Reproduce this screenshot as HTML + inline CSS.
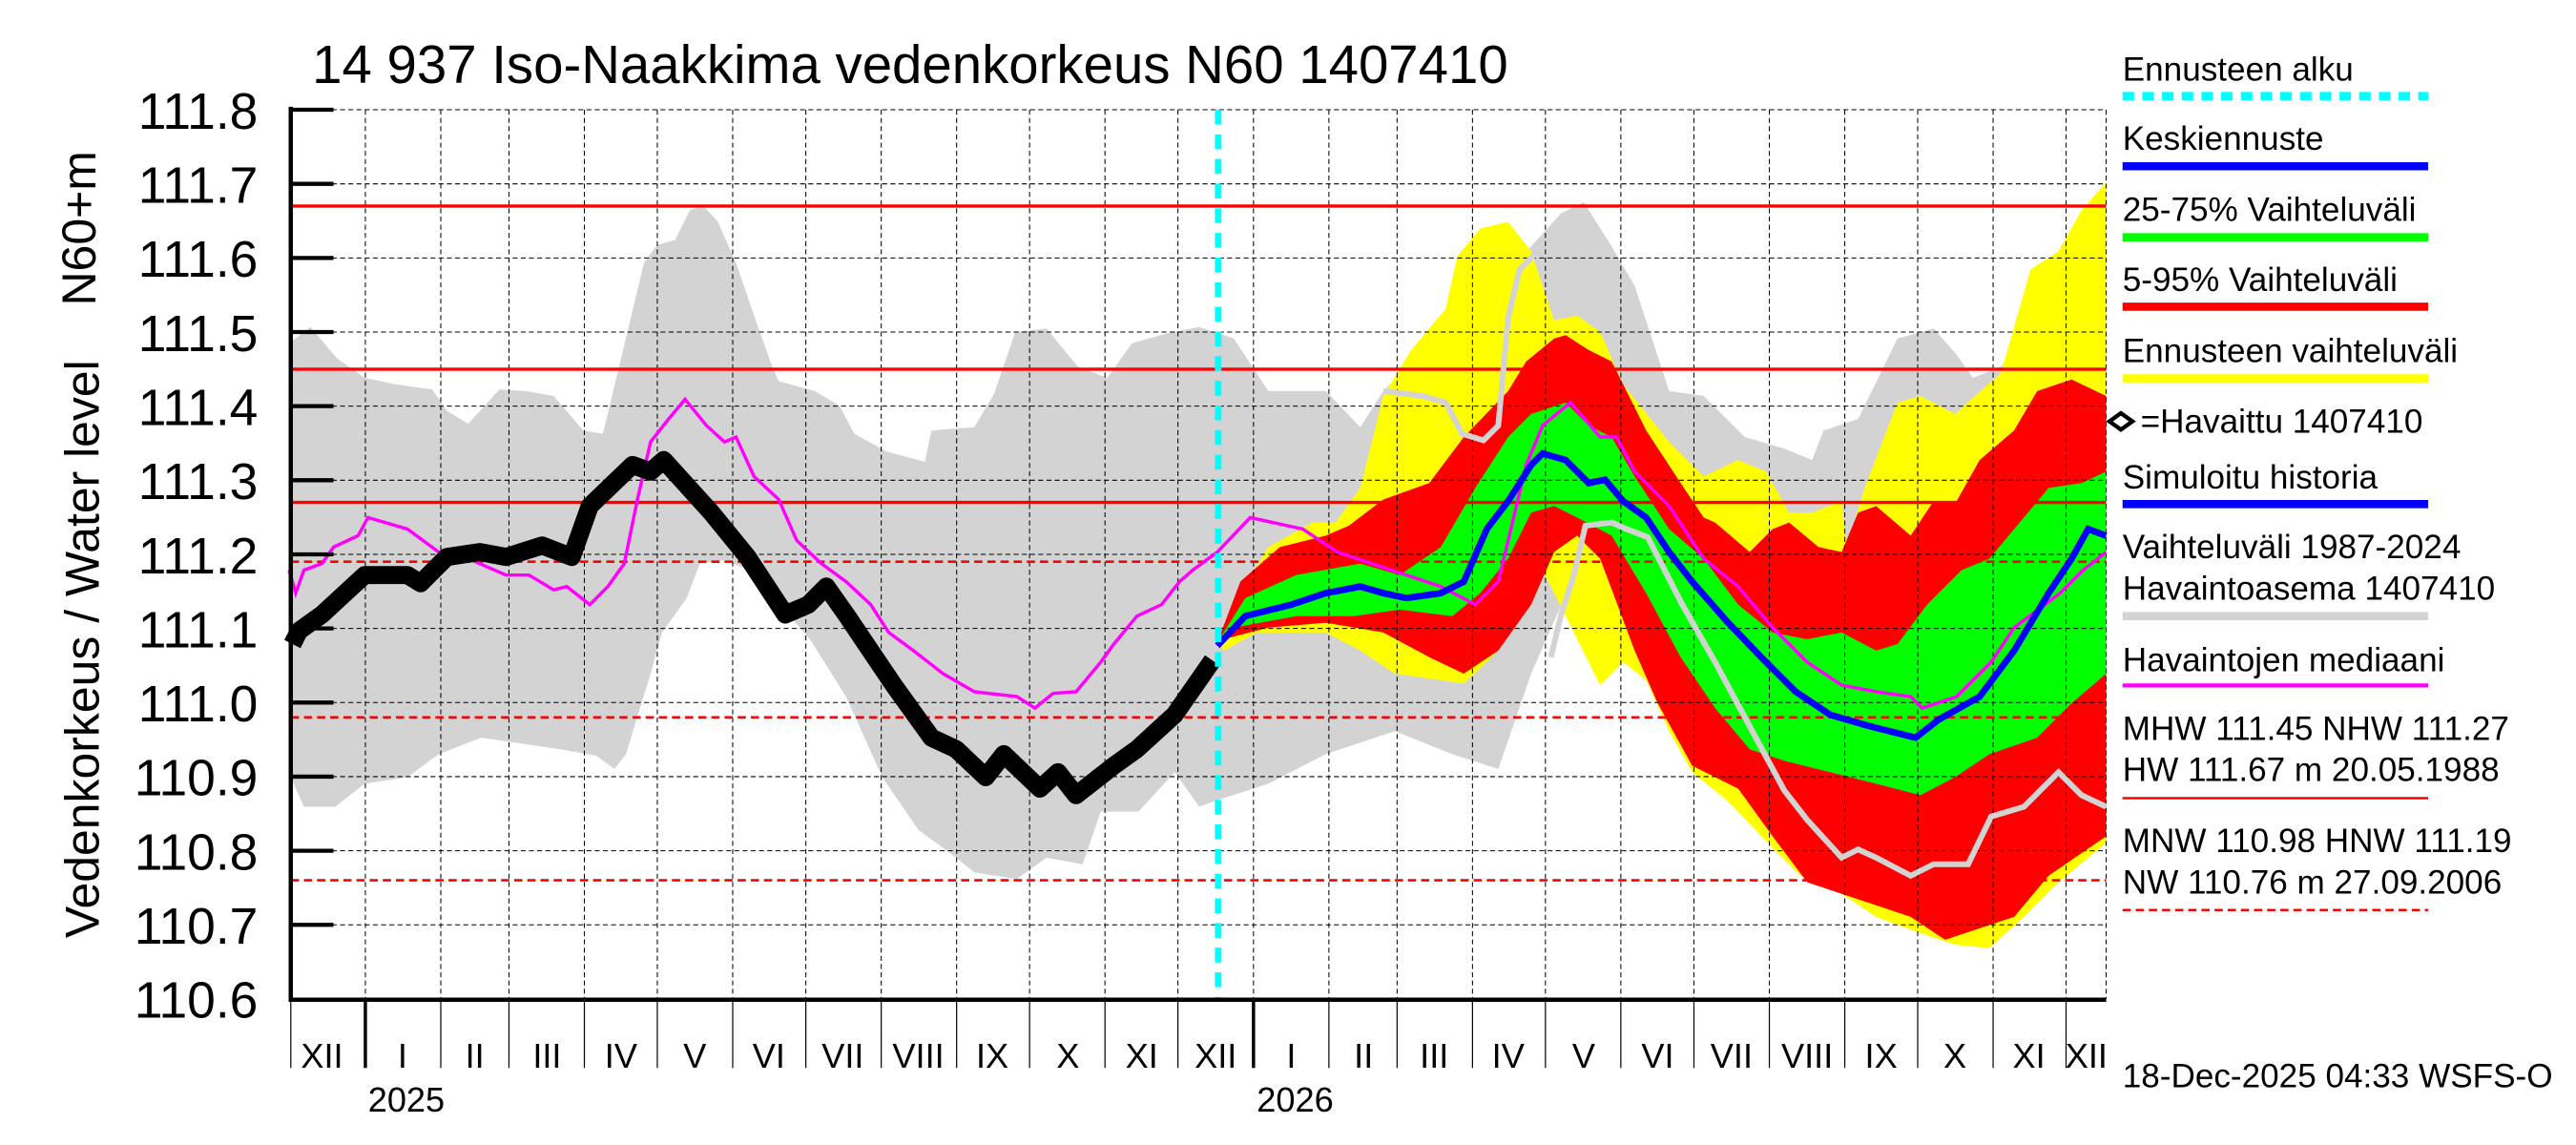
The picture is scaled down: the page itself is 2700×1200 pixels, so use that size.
<!DOCTYPE html>
<html><head><meta charset="utf-8"><style>html,body{margin:0;padding:0;background:#fff;}svg{display:block;}text{font-family:"Liberation Sans",sans-serif;}</style></head>
<body>
<svg width="2700" height="1200" viewBox="0 0 1568 696.9" preserveAspectRatio="none" xmlns="http://www.w3.org/2000/svg">
<rect width="1568" height="697" fill="#fff"/>
<polygon fill="#d3d3d3" points="176,209 189,199 205,218 222,230 241,234 263,237 272,250 285,258 304,237 320,238 337,241 355,262 367,264 380,210 392,160 400,149 411,146 420,128 428,125 437,135 448,160 460,195 470,223 474,232 496,238 511,247 520,264 540,275 563,281 567,262 593,260 605,240 618,202 637,200 656,223 674,230 689,209 710,203 730,199 751,206 772,238 807,238 828,260 842,238 880,200 910,170 932,150 950,130 964,123 981,150 995,174 1016,238 1037,241 1062,266 1086,273 1103,280 1110,262 1131,255 1155,206 1177,200 1191,216 1201,230 1218,223 1232,209 1260,204 1282,206 1282,470 1250,480 1200,510 1150,520 1100,500 1050,450 1000,380 977,315 960,347 946,378 932,410 912,468 884,459 849,445 807,459 772,477 741,487 730,491 715,470 693,494 670,494 659,526 637,522 619,535 593,531 582,522 559,505 537,473 515,424 493,389 456,347 441,341 426,343 418,364 403,385 396,410 381,459 374,468 363,460 341,456 293,449 267,459 248,473 222,477 204,491 185,491 177,473"/>
<polygon fill="#ffff00" points="741,391 751,368 772,333 799,318 813,318 828,297 842,241 859,213 880,188 887,156 901,139 918,135 932,153 946,195 960,192 974,202 988,234 1016,269 1037,290 1058,280 1075,287 1089,312 1103,312 1121,305 1124,333 1135,297 1155,245 1169,241 1190,252 1218,227 1236,164 1253,153 1267,128 1282,111 1282,513 1253,537 1232,558 1211,577 1190,575 1169,568 1142,558 1121,544 1096,533 1079,516 1051,487 1030,470 1016,445 1002,414 988,403 974,417 953,375 939,347 912,396 891,416 849,410 828,396 807,385 765,385 745,396"/>
<polygon fill="#ff0000" points="741,391 755,354 779,333 807,326 821,320 842,304 870,294 891,266 918,238 929,220 946,206 953,204 967,213 981,220 1002,262 1023,294 1037,315 1044,318 1065,336 1079,322 1089,318 1107,333 1121,336 1131,312 1142,308 1163,326 1177,305 1191,305 1205,280 1226,262 1240,238 1261,231 1282,241 1282,509 1247,533 1226,558 1205,565 1184,572 1163,558 1142,551 1121,544 1100,537 1079,509 1058,480 1030,466 1009,428 995,396 974,340 960,326 946,336 932,368 912,396 891,410 870,400 842,385 807,379 772,382 745,389"/>
<polygon fill="#00ff00" points="741,391 758,364 789,350 828,343 852,350 877,333 898,297 918,266 932,252 953,245 967,259 981,266 995,290 1016,322 1037,340 1058,368 1079,385 1100,389 1121,385 1142,396 1155,392 1173,368 1194,347 1211,340 1226,322 1247,297 1267,294 1282,287 1282,410 1261,428 1240,449 1211,459 1190,473 1169,484 1142,477 1114,470 1086,463 1065,456 1044,431 1023,400 1002,361 981,326 960,315 946,308 932,312 918,340 901,361 884,375 852,371 824,375 789,375 751,382"/>
<g stroke="#000" stroke-width="0.6" stroke-dasharray="3 2" fill="none">
<path d="M177 66.8H1282M177 111.9H1282M177 157H1282M177 202.1H1282M177 247.2H1282M177 292.3H1282M177 337.4H1282M177 382.5H1282M177 427.6H1282M177 472.7H1282M177 517.8H1282M177 562.9H1282"/>
<path d="M222.4 66.8V608M268.3 66.8V608M309.8 66.8V608M355.7 66.8V608M400.1 66.8V608M446 66.8V608M490.5 66.8V608M536.4 66.8V608M582.3 66.8V608M626.7 66.8V608M672.6 66.8V608M717 66.8V608M763 66.8V608M808.9 66.8V608M850.4 66.8V608M896.3 66.8V608M940.7 66.8V608M986.6 66.8V608M1031.1 66.8V608M1077 66.8V608M1122.9 66.8V608M1167.3 66.8V608M1213.2 66.8V608M1257.6 66.8V608M1282 66.8V608"/>
</g>
<g stroke="#ff0000" stroke-width="2" fill="none">
<path d="M177 125.4H1282M177 224.7H1282M177 305.8H1282"/>
<path stroke-dasharray="5 3" stroke-width="1.5" d="M177 341.9H1282M177 436.6H1282M177 535.8H1282"/>
</g>
<polyline fill="none" stroke="#d3d3d3" stroke-width="3.5" points="842,238 866,241 880,245 890,264 903,268 912,259 918,193 925,164 939,150"/>
<polyline fill="none" stroke="#d3d3d3" stroke-width="3.5" points="944,400 950,375 958,350 965,320 981,318 990,322 1003,327 1024,368 1044,403 1065,442 1086,481 1100,499 1121,522 1131,517 1142,522 1163,533 1177,526 1198,526 1212,497 1232,491 1253,470 1267,484 1282,491"/>
<polyline fill="none" stroke="#ff00ff" stroke-width="2" points="176,347 180,361 185,347 196,343 203,333 218,326 224,315 248,322 267,336 285,340 308,350 322,350 337,359 345,357 359,368 370,357 380,343 388,304 396,269 407,255 417,243 430,259 441,269 448,266 459,290 474,304 485,329 500,343 515,354 530,368 541,385 556,396 574,410 593,421 619,424 630,431 641,422 655,421 670,403 678,392 692,375 707,368 718,354 726,347 741,336 761,315 793,322 814,336 835,343 856,350 877,357 898,368 912,354 918,329 929,283 939,259 956,245 974,266 984,266 995,287 1016,308 1037,340 1058,357 1079,382 1100,403 1121,417 1142,421 1163,424 1170,431 1191,424 1212,403 1226,382 1254,361 1268,347 1282,336"/>
<polyline fill="none" stroke="#0000ff" stroke-width="4" points="741,393 758,375 786,368 807,361 828,357 842,361 856,364 877,361 891,354 905,322 918,305 932,283 939,276 953,280 967,294 977,292 988,305 1002,315 1016,336 1030,354 1051,378 1072,400 1093,421 1114,435 1138,442 1166,449 1180,438 1205,424 1226,396 1247,361 1261,340 1271,322 1282,326"/>
<polyline fill="none" stroke="#000" stroke-width="11" stroke-linejoin="round" points="178,392 182,384 196,374 222,350 248,350 256,355 272,339 292,336 308,339 330,332 348,339 359,308 385,283 396,287 404,280 433,312 455,339 478,374 492,368 503,357 515,374 544,417 567,449 582,456 600,473 611,459 633,480 644,470 655,484 678,466 692,456 715,435 738,402"/>
<path d="M741.5 66.8V608" stroke="#00ffff" stroke-width="4" stroke-dasharray="9 6"/>
<path d="M177 65V609.5M175.7 608.5H1282" stroke="#000" stroke-width="2.6" fill="none"/>
<path d="M177 66.8H203M177 111.9H203M177 157H203M177 202.1H203M177 247.2H203M177 292.3H203M177 337.4H203M177 382.5H203M177 427.6H203M177 472.7H203M177 517.8H203M177 562.9H203" stroke="#000" stroke-width="2.5"/>
<path d="M177 608V650M268.3 608V650M309.8 608V650M355.7 608V650M400.1 608V650M446 608V650M490.5 608V650M536.4 608V650M582.3 608V650M626.7 608V650M672.6 608V650M717 608V650M808.9 608V650M850.4 608V650M896.3 608V650M940.7 608V650M986.6 608V650M1031.1 608V650M1077 608V650M1122.9 608V650M1167.3 608V650M1213.2 608V650M1257.6 608V650" stroke="#000" stroke-width="0.7"/>
<path d="M222.4 608V650M763 608V650" stroke="#000" stroke-width="2"/>
<g font-size="31" text-anchor="end">
<text x="157" y="78.3">111.8</text><text x="157" y="123.4">111.7</text><text x="157" y="168.5">111.6</text><text x="157" y="213.6">111.5</text><text x="157" y="258.7">111.4</text><text x="157" y="303.8">111.3</text><text x="157" y="348.9">111.2</text><text x="157" y="394">111.1</text><text x="157" y="439.1">111.0</text><text x="157" y="484.2">110.9</text><text x="157" y="529.3">110.8</text><text x="157" y="574.4">110.7</text><text x="157" y="619.5">110.6</text>
</g>
<text font-size="29" text-anchor="middle" transform="translate(58,139) rotate(-90)">N60+m</text>
<text font-size="29" text-anchor="middle" transform="translate(60,395) rotate(-90)">Vedenkorkeus / Water level</text>
<text x="190" y="50.5" font-size="33" textLength="728" lengthAdjust="spacingAndGlyphs">14 937 Iso-Naakkima vedenkorkeus N60 1407410</text>
<g font-size="21" text-anchor="middle">
<text x="196" y="650">XII</text><text x="245" y="650">I</text><text x="289" y="650">II</text><text x="333" y="650">III</text><text x="378" y="650">IV</text><text x="423" y="650">V</text><text x="468" y="650">VI</text><text x="513" y="650">VII</text><text x="559" y="650">VIII</text><text x="604" y="650">IX</text><text x="650" y="650">X</text><text x="695" y="650">XI</text><text x="740" y="650">XII</text>
<text x="786" y="650">I</text><text x="830" y="650">II</text><text x="873" y="650">III</text><text x="918" y="650">IV</text><text x="964" y="650">V</text><text x="1009" y="650">VI</text><text x="1054" y="650">VII</text><text x="1100" y="650">VIII</text><text x="1145" y="650">IX</text><text x="1190" y="650">X</text><text x="1235" y="650">XI</text><text x="1270" y="650">XII</text>
</g>
<text x="224" y="676.6" font-size="21">2025</text>
<text x="765" y="676.6" font-size="21">2026</text>
<g font-size="20.4">
<text x="1292" y="49">Ennusteen alku</text>
<text x="1292" y="91.3">Keskiennuste</text>
<text x="1292" y="134.5">25-75% Vaihteluväli</text>
<text x="1292" y="177.2">5-95% Vaihteluväli</text>
<text x="1292" y="220.4">Ennusteen vaihteluväli</text>
<text x="1303" y="263.5">=Havaittu 1407410</text>
<text x="1292" y="297.4">Simuloitu historia</text>
<text x="1292" y="339.7">Vaihteluväli 1987-2024</text>
<text x="1292" y="365">Havaintoasema 1407410</text>
<text x="1292" y="408.6">Havaintojen mediaani</text>
<text x="1292" y="450.5">MHW 111.45 NHW 111.27</text>
<text x="1292" y="475.4">HW 111.67 m 20.05.1988</text>
<text x="1292" y="518.6">MNW 110.98 HNW 111.19</text>
<text x="1292" y="544">NW 110.76 m 27.09.2006</text>
<text x="1292" y="661.9">18-Dec-2025 04:33 WSFS-O</text>
</g>
<g fill="none">
<path d="M1292 58.5H1478" stroke="#00ffff" stroke-width="5" stroke-dasharray="7 5"/>
<path d="M1292 101.2H1478" stroke="#0000ff" stroke-width="5"/>
<path d="M1292 144.4H1478" stroke="#00ff00" stroke-width="5"/>
<path d="M1292 186.7H1478" stroke="#ff0000" stroke-width="5"/>
<path d="M1292 230.3H1478" stroke="#ffff00" stroke-width="5"/>
<path d="M1291 251.5L1298 256.5L1291 261.5L1284 256.5Z" stroke="#000" stroke-width="2.5"/>
<path d="M1292 306.8H1478" stroke="#0000ff" stroke-width="5"/>
<path d="M1292 375H1478" stroke="#d3d3d3" stroke-width="5"/>
<path d="M1292 417.2H1478" stroke="#ff00ff" stroke-width="2.5"/>
<path d="M1292 485.8H1478" stroke="#ff0000" stroke-width="1.5"/>
<path d="M1292 553.9H1478" stroke="#ff0000" stroke-width="1.5" stroke-dasharray="5 3"/>
</g>
</svg>
</body></html>
